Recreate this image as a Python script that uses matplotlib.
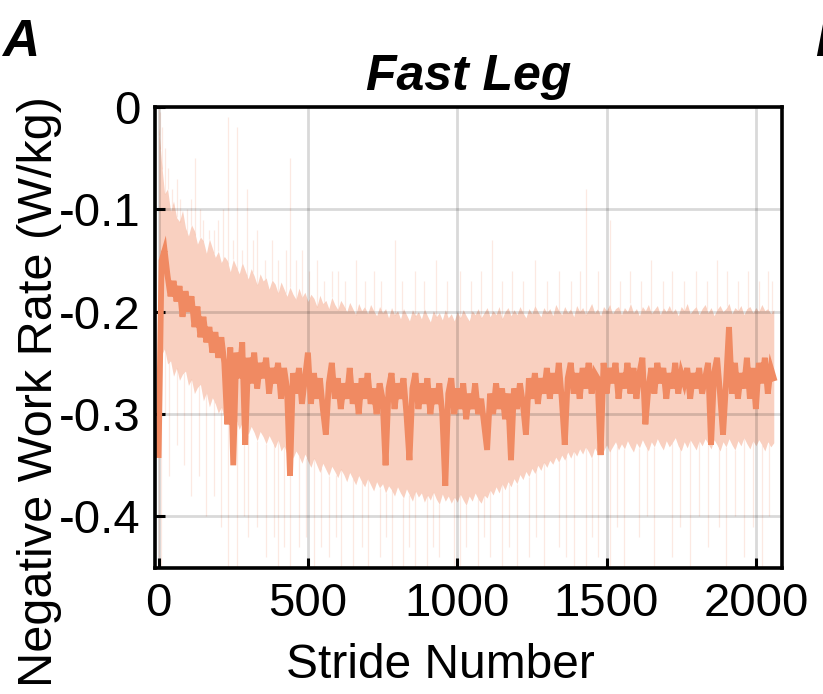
import numpy as np
import matplotlib
matplotlib.use("Agg")
import matplotlib.pyplot as plt

plt.rcParams['font.family'] = ['Liberation Sans', 'DejaVu Sans']
plt.rcParams['axes.unicode_minus'] = False

# stride index every 10 strides, 0 .. 2060
stride_step = 10

mean_rate = [
    -0.340, -0.150, -0.140, -0.165, -0.185, -0.170, -0.190, -0.175, -0.205, -0.180,
    -0.200, -0.185, -0.215, -0.195, -0.225, -0.205, -0.230, -0.215, -0.240, -0.220,
    -0.245, -0.225, -0.250, -0.310, -0.235, -0.350, -0.240, -0.265, -0.230, -0.330,
    -0.245, -0.270, -0.240, -0.275, -0.250, -0.265, -0.245, -0.280, -0.255, -0.270,
    -0.250, -0.285, -0.255, -0.275, -0.360, -0.260, -0.280, -0.255, -0.290, -0.265,
    -0.240, -0.290, -0.260, -0.285, -0.265, -0.295, -0.320, -0.270, -0.250, -0.285,
    -0.265, -0.295, -0.270, -0.285, -0.255, -0.290, -0.270, -0.300, -0.265, -0.285,
    -0.260, -0.290, -0.275, -0.300, -0.270, -0.285, -0.350, -0.275, -0.260, -0.295,
    -0.270, -0.285, -0.265, -0.300, -0.345, -0.275, -0.260, -0.295, -0.270, -0.290,
    -0.265, -0.300, -0.275, -0.290, -0.270, -0.300, -0.370, -0.280, -0.265, -0.300,
    -0.275, -0.295, -0.270, -0.305, -0.280, -0.295, -0.270, -0.300, -0.285, -0.310,
    -0.335, -0.280, -0.300, -0.270, -0.295, -0.275, -0.305, -0.280, -0.345, -0.275,
    -0.295, -0.270, -0.290, -0.320, -0.265, -0.285, -0.260, -0.290, -0.265, -0.280,
    -0.255, -0.285, -0.260, -0.280, -0.250, -0.285, -0.330, -0.265, -0.250, -0.280,
    -0.260, -0.285, -0.255, -0.275, -0.250, -0.280, -0.260, -0.265, -0.340, -0.250,
    -0.280, -0.255, -0.270, -0.250, -0.285, -0.260, -0.275, -0.250, -0.280, -0.255,
    -0.285, -0.260, -0.245, -0.310, -0.275, -0.255, -0.280, -0.250, -0.270, -0.255,
    -0.285, -0.260, -0.275, -0.250, -0.280, -0.260, -0.270, -0.255, -0.285, -0.260,
    -0.275, -0.255, -0.280, -0.265, -0.250, -0.330, -0.260, -0.245, -0.280, -0.320,
    -0.270, -0.215, -0.280, -0.250, -0.285, -0.260, -0.275, -0.245, -0.285, -0.255,
    -0.295, -0.250, -0.270, -0.245, -0.280, -0.255, -0.265,
]

band_upper = [
    -0.020, -0.055, -0.085, -0.080, -0.102, -0.092, -0.108, -0.112, -0.101, -0.118,
    -0.126, -0.115, -0.121, -0.134, -0.127, -0.131, -0.143, -0.129, -0.138, -0.147,
    -0.141, -0.152, -0.146, -0.150, -0.161, -0.149, -0.156, -0.163, -0.152, -0.160,
    -0.168, -0.158, -0.165, -0.174, -0.163, -0.170, -0.167, -0.178, -0.169, -0.173,
    -0.182, -0.171, -0.178, -0.185, -0.176, -0.183, -0.188, -0.177, -0.186, -0.181,
    -0.190, -0.183, -0.187, -0.195, -0.184, -0.192, -0.189, -0.197, -0.186, -0.193,
    -0.198, -0.189, -0.194, -0.200, -0.191, -0.197, -0.203, -0.192, -0.199, -0.195,
    -0.202, -0.193, -0.199, -0.204, -0.195, -0.201, -0.197, -0.206, -0.196, -0.203,
    -0.199, -0.207, -0.197, -0.203, -0.209, -0.198, -0.204, -0.200, -0.207, -0.197,
    -0.204, -0.210, -0.199, -0.205, -0.201, -0.208, -0.198, -0.206, -0.202, -0.209,
    -0.200, -0.206, -0.198, -0.204, -0.209, -0.199, -0.203, -0.197, -0.206, -0.201,
    -0.196, -0.205, -0.199, -0.203, -0.195, -0.207, -0.200, -0.196, -0.204, -0.198,
    -0.203, -0.195, -0.201, -0.206, -0.197, -0.202, -0.194, -0.200, -0.205, -0.196,
    -0.201, -0.197, -0.204, -0.193, -0.199, -0.203, -0.195, -0.201, -0.197, -0.205,
    -0.194, -0.200, -0.196, -0.203, -0.198, -0.192, -0.201, -0.197, -0.204, -0.195,
    -0.199, -0.193, -0.202, -0.197, -0.195, -0.203, -0.196, -0.200, -0.192, -0.201,
    -0.197, -0.204, -0.195, -0.199, -0.193, -0.202, -0.198, -0.194, -0.203, -0.196,
    -0.200, -0.194, -0.201, -0.197, -0.204, -0.195, -0.199, -0.192, -0.202, -0.198,
    -0.195, -0.203, -0.197, -0.193, -0.201, -0.196, -0.204, -0.198, -0.194, -0.200,
    -0.197, -0.192, -0.202, -0.196, -0.199, -0.194, -0.203, -0.197, -0.195, -0.201,
    -0.196, -0.200, -0.193, -0.199, -0.197, -0.202, -0.198,
]

band_lower = [
    -0.300, -0.242, -0.236, -0.251, -0.248, -0.263, -0.255, -0.267, -0.261, -0.258,
    -0.272, -0.266, -0.280, -0.274, -0.271, -0.287, -0.279, -0.293, -0.284, -0.290,
    -0.299, -0.293, -0.304, -0.298, -0.309, -0.302, -0.306, -0.315, -0.308, -0.313,
    -0.320, -0.312, -0.318, -0.326, -0.317, -0.322, -0.329, -0.321, -0.327, -0.333,
    -0.325, -0.336, -0.331, -0.339, -0.330, -0.343, -0.336, -0.341, -0.348, -0.339,
    -0.346, -0.352, -0.343, -0.350, -0.357, -0.348, -0.354, -0.360, -0.351, -0.356,
    -0.362, -0.354, -0.359, -0.366, -0.357, -0.363, -0.369, -0.360, -0.366, -0.371,
    -0.363, -0.369, -0.375, -0.366, -0.372, -0.368, -0.377, -0.370, -0.374, -0.380,
    -0.371, -0.377, -0.382, -0.373, -0.379, -0.385, -0.375, -0.381, -0.377, -0.386,
    -0.379, -0.384, -0.376, -0.383, -0.388, -0.378, -0.385, -0.380, -0.387, -0.381,
    -0.386, -0.378, -0.384, -0.389, -0.380, -0.385, -0.377, -0.383, -0.387, -0.379,
    -0.382, -0.374, -0.379, -0.371, -0.377, -0.368, -0.374, -0.366, -0.371, -0.363,
    -0.368, -0.359, -0.364, -0.356, -0.361, -0.353, -0.358, -0.350, -0.355, -0.347,
    -0.352, -0.345, -0.349, -0.342, -0.347, -0.340, -0.345, -0.337, -0.343, -0.336,
    -0.341, -0.334, -0.339, -0.332, -0.337, -0.343, -0.333, -0.338, -0.331, -0.336,
    -0.330, -0.337, -0.332, -0.327, -0.335, -0.329, -0.334, -0.326, -0.332, -0.337,
    -0.328, -0.333, -0.325, -0.331, -0.336, -0.327, -0.332, -0.324, -0.330, -0.335,
    -0.326, -0.332, -0.328, -0.323, -0.331, -0.336, -0.327, -0.333, -0.325, -0.330,
    -0.335, -0.326, -0.331, -0.324, -0.329, -0.334, -0.325, -0.330, -0.336, -0.327,
    -0.332, -0.324, -0.330, -0.335, -0.326, -0.331, -0.323, -0.329, -0.334, -0.326,
    -0.331, -0.325, -0.330, -0.336, -0.327, -0.332, -0.328,
]

# faint single-stride excursions of the shaded band
spike_up_x = [2, 6, 12, 20, 30, 45, 60, 70, 95, 110,
              123, 140, 150, 170, 185, 200, 215, 233, 250, 263,
              280, 297, 315, 330, 355, 380, 400, 425, 440, 460,
              480, 505, 530, 555, 580, 600, 625, 660, 690, 720,
              745, 790, 815, 860, 890, 930, 965, 1010, 1045, 1080,
              1115, 1150, 1185, 1220, 1260, 1300, 1340, 1380, 1410, 1430,
              1470, 1513, 1545, 1580, 1615, 1650, 1690, 1720, 1760, 1800,
              1835, 1870, 1905, 1940, 1975, 2010, 2040, 2055]
spike_up_y = [0.0, -0.005, -0.02, -0.04, -0.06, -0.08, -0.07, -0.09, -0.10, -0.09,
              -0.05, -0.10, -0.11, -0.12, -0.12, -0.11, -0.10, -0.01, -0.13, -0.02,
              -0.14, -0.08, -0.13, -0.12, -0.15, -0.13, -0.15, -0.14, -0.05, -0.15,
              -0.14, -0.16, -0.15, -0.17, -0.16, -0.16, -0.17, -0.15, -0.17, -0.16,
              -0.17, -0.13, -0.17, -0.16, -0.17, -0.15, -0.17, -0.16, -0.17, -0.16,
              -0.13, -0.17, -0.16, -0.17, -0.15, -0.17, -0.16, -0.17, -0.16, -0.08,
              -0.16, -0.11, -0.17, -0.16, -0.17, -0.15, -0.17, -0.16, -0.17, -0.16,
              -0.17, -0.15, -0.16, -0.17, -0.16, -0.17, -0.16, -0.17]
spike_dn_x = [1, 8, 20, 35, 60, 85, 110, 135, 160, 185,
              210, 233, 263, 285, 300, 330, 360, 385, 400, 420,
              440, 470, 495, 520, 545, 570, 595, 610, 650, 680,
              700, 740, 760, 780, 820, 840, 860, 900, 920, 940,
              990, 1010, 1030, 1070, 1090, 1110, 1150, 1175, 1200, 1240,
              1265, 1290, 1340, 1365, 1390, 1430, 1450, 1470, 1513, 1535,
              1560, 1610, 1635, 1660, 1720, 1745, 1780, 1810, 1840, 1875,
              1900, 1930, 1960, 1990, 2020, 2045]
spike_dn_y = [-0.45, -0.45, -0.30, -0.36, -0.33, -0.35, -0.38, -0.36, -0.40, -0.38,
              -0.41, -0.45, -0.45, -0.40, -0.42, -0.41, -0.44, -0.42, -0.45, -0.43,
              -0.45, -0.43, -0.42, -0.45, -0.43, -0.44, -0.42, -0.45, -0.45, -0.43,
              -0.45, -0.44, -0.42, -0.45, -0.45, -0.43, -0.45, -0.45, -0.43, -0.44,
              -0.45, -0.45, -0.43, -0.45, -0.42, -0.44, -0.45, -0.43, -0.45, -0.44,
              -0.42, -0.45, -0.43, -0.44, -0.45, -0.45, -0.42, -0.44, -0.45, -0.41,
              -0.45, -0.42, -0.40, -0.45, -0.44, -0.41, -0.45, -0.40, -0.43, -0.41,
              -0.45, -0.40, -0.44, -0.41, -0.45, -0.40]

x_ticks = [0, 500, 1000, 1500, 2000]
y_ticks = [0, -0.1, -0.2, -0.3, -0.4]
y_tick_labels = ['0', '-0.1', '-0.2', '-0.3', '-0.4']

line_color = '#F08A62'

strides = np.arange(len(mean_rate)) * stride_step
up_base = np.interp(spike_up_x, strides, band_upper)
dn_base = np.interp(spike_dn_x, strides, band_lower)

fig = plt.figure(figsize=(8.23, 6.94), dpi=100)
ax = fig.add_axes([0.188, 0.182, 0.762, 0.664])

ax.vlines(spike_up_x, up_base, spike_up_y, color=line_color, alpha=0.18, lw=0.9, zorder=1)
ax.vlines(spike_dn_x, dn_base, spike_dn_y, color=line_color, alpha=0.18, lw=0.9, zorder=1)
ax.fill_between(strides, band_lower, band_upper, color=line_color, alpha=0.4,
                lw=0, zorder=1.2)
ax.plot(strides, mean_rate, color=line_color, lw=4.2, solid_joinstyle='miter', zorder=3)

ax.set_xlim(-13, 2087)
ax.set_ylim(-0.45, 0)
ax.set_xticks(x_ticks)
ax.set_xticklabels([str(t) for t in x_ticks])
ax.set_yticks(y_ticks)
ax.set_yticklabels(y_tick_labels)
ax.tick_params(direction='in', length=7, width=2.2, labelsize=34, pad=10,
               top=False, right=False)
ax.set_axisbelow(False)
ax.grid(True, color='k', alpha=0.15, lw=2)
for sp in ax.spines.values():
    sp.set_linewidth(2.6)
    sp.set_zorder(4)

ax.set_title('Fast Leg', fontsize=36, fontweight='bold', style='italic', pad=12)
fig.text(440 / 823, 1 - 665 / 694, 'Stride Number', fontsize=34.5, ha='center', va='center')
fig.text(40 / 823, 1 - 392 / 694, 'Negative Work Rate (W/kg)', fontsize=35,
         rotation=90, ha='center', va='center')
fig.text(0.002, 1 - 42 / 694, 'A', fontsize=37, fontweight='bold', style='italic',
         ha='left', va='center')
fig.text(0.99, 1 - 42 / 694, 'B', fontsize=37, fontweight='bold', style='italic',
         ha='left', va='center')

fig.savefig('out.png', dpi=100)
